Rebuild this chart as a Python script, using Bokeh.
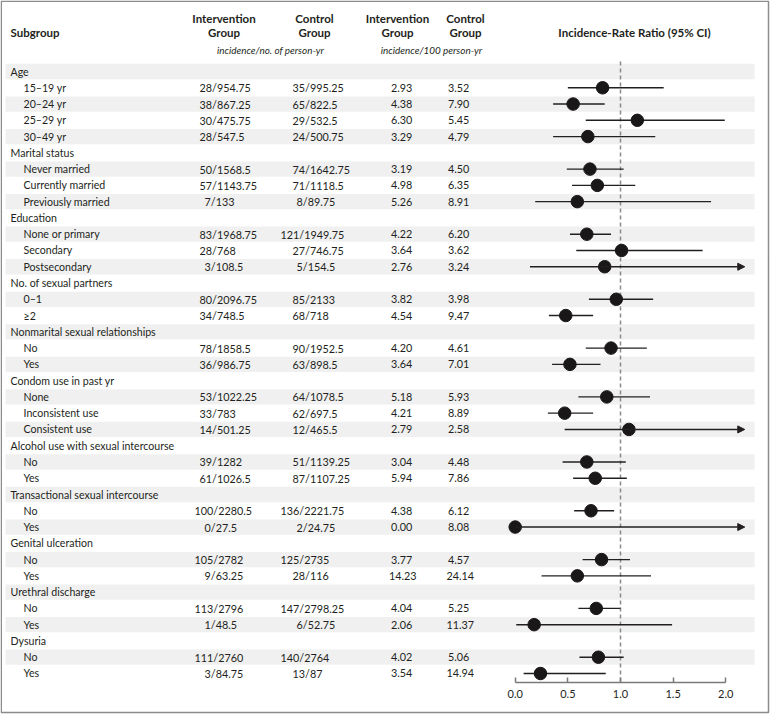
from bokeh.plotting import figure
from bokeh.models import (Range1d, LinearAxis, FixedTicker, PrintfTickFormatter,
                          ColumnDataSource, Arrow, NormalHead)
from bokeh.embed import file_html
from bokeh.resources import INLINE
from bokeh.core.properties import value

# ---------------- data ----------------
groups = ["Age", "Marital status", "Education", "No. of sexual partners",
          "Nonmarital sexual relationships", "Condom use in past yr",
          "Alcohol use with sexual intercourse", "Transactional sexual intercourse",
          "Genital ulceration", "Urethral discharge", "Dysuria"]
subgroups = [
    ["15\u201319 yr", "20\u201324 yr", "25\u201329 yr", "30\u201349 yr"],
    ["Never married", "Currently married", "Previously married"],
    ["None or primary", "Secondary", "Postsecondary"],
    ["0\u20131", "\u22652"],
    ["No", "Yes"],
    ["None", "Inconsistent use", "Consistent use"],
    ["No", "Yes"],
    ["No", "Yes"],
    ["No", "Yes"],
    ["No", "Yes"],
    ["No", "Yes"],
]
int_events = ["28", "38", "30", "28", "50", "57", "7", "83", "28", "3", "80", "34",
              "78", "36", "53", "33", "14", "39", "61", "100", "0", "105", "9",
              "113", "1", "111", "3"]
int_py = ["954.75", "867.25", "475.75", "547.5", "1568.5", "1143.75", "133",
          "1968.75", "768", "108.5", "2096.75", "748.5", "1858.5", "986.75",
          "1022.25", "783", "501.25", "1282", "1026.5", "2280.5", "27.5", "2782",
          "63.25", "2796", "48.5", "2760", "84.75"]
ctl_events = ["35", "65", "29", "24", "74", "71", "8", "121", "27", "5", "85", "68",
              "90", "63", "64", "62", "12", "51", "87", "136", "2", "125", "28",
              "147", "6", "140", "13"]
ctl_py = ["995.25", "822.5", "532.5", "500.75", "1642.75", "1118.5", "89.75",
          "1949.75", "746.75", "154.5", "2133", "718", "1952.5", "898.5", "1078.5",
          "697.5", "465.5", "1139.25", "1107.25", "2221.75", "24.75", "2735", "116",
          "2798.25", "52.75", "2764", "87"]
int_rate = ["2.93", "4.38", "6.30", "3.29", "3.19", "4.98", "5.26", "4.22", "3.64",
            "2.76", "3.82", "4.54", "4.20", "3.64", "5.18", "4.21", "2.79", "3.04",
            "5.94", "4.38", "0.00", "3.77", "14.23", "4.04", "2.06", "4.02", "3.54"]
ctl_rate = ["3.52", "7.90", "5.45", "4.79", "4.50", "6.35", "8.91", "6.20", "3.62",
            "3.24", "3.98", "9.47", "4.61", "7.01", "5.93", "8.89", "2.58", "4.48",
            "7.86", "6.12", "8.08", "4.57", "24.14", "5.25", "11.37", "5.06", "14.94"]
irr = [0.83, 0.55, 1.16, 0.69, 0.71, 0.78, 0.59, 0.68, 1.01, 0.85, 0.96, 0.48,
       0.91, 0.52, 0.87, 0.47, 1.08, 0.68, 0.76, 0.72, 0.00, 0.82, 0.59, 0.77,
       0.18, 0.79, 0.24]
ci_low = [0.50, 0.36, 0.67, 0.36, 0.49, 0.54, 0.19, 0.52, 0.58, 0.14, 0.70, 0.32,
          0.67, 0.35, 0.60, 0.31, 0.47, 0.45, 0.55, 0.56, 0.00, 0.64, 0.25, 0.60,
          0.01, 0.61, 0.08]
ci_high = [1.41, 0.85, 1.99, 1.33, 1.03, 1.14, 1.86, 0.91, 1.78, None, 1.31, 0.74,
           1.25, 0.81, 1.28, 0.74, None, 1.05, 1.06, 0.94, None, 1.09, 1.29, 1.00,
           1.49, 1.03, 0.86]
tick_values = [0.0, 0.5, 1.0, 1.5, 2.0]

# ---------------- layout (page pixels) ----------------
W, H = 770, 714
OX, OY = 8, 8
ROW0, PITCH = 79.0, 16.27          # page y of first row, row pitch
X0, XS = 522.7, 105.3              # page x of IRR 0, pixels per unit
ARROW_END = 2.18                   # where open-ended CIs are drawn to
FONT = value("Lato")
TXT = "#231f20"

def prow(py):
    return (py - ROW0) / PITCH

p = figure(width=W, height=H, output_backend="svg", toolbar_location=None,
           x_range=Range1d((OX - X0) / XS, (OX + W - X0) / XS),
           y_range=Range1d(prow(OY + H), prow(OY)),
           x_axis_type=None, y_axis_type=None, min_border=0)
p.extra_x_ranges = {"pg": Range1d(OX, OX + W)}
p.extra_y_ranges = {"pgy": Range1d(OY + H, OY)}
p.outline_line_color = None
p.background_fill_color = "white"

# build rows
head_y, head_t, sub_y, sub_t = [], [], [], []
r = 0
for g, subs in zip(groups, subgroups):
    head_y.append(r); head_t.append(g); r += 1
    for s in subs:
        sub_y.append(r); sub_t.append(s); r += 1
n_rows = r

# zebra shading
shade = [i for i in range(n_rows) if i % 2 == 0]
p.quad(left=13, right=762, top=[i - 0.47 for i in shade], bottom=[i + 0.47 for i in shade],
       x_range_name="pg", fill_color="#f0f0f0", line_color=None)

# outer frame
p.quad(left=OX + 0.75, right=776, top=OY + 0.75, bottom=720,
       x_range_name="pg", y_range_name="pgy", fill_color=None,
       line_color="#8c8c8c", line_width=1.5)

lab = dict(x_range_name="pg", text_font=FONT, text_font_size="10.6px",
           text_baseline="middle", text_color=TXT, text_align="left")
num = dict(lab, text_font_size="10.8px")
p.text(x=18, y=head_y, text=head_t, **lab)
p.text(x=31, y=sub_y, text=sub_t, **lab)

int_left = {1: 212, 2: 207, 3: 202}
ctl_left = {1: 304, 2: 300, 3: 288}
p.text(x=[int_left[len(e)] for e in int_events], y=sub_y,
       text=[e + "/" + d for e, d in zip(int_events, int_py)], **num)
p.text(x=[ctl_left[len(e)] for e in ctl_events], y=sub_y,
       text=[e + "/" + d for e, d in zip(ctl_events, ctl_py)], **num)
p.text(x=[398.5 - (2 if len(v) > 4 else 0) for v in int_rate], y=sub_y, text=int_rate, **num)
p.text(x=[455.5 - (1.5 if len(v) > 4 else 0) for v in ctl_rate], y=sub_y, text=ctl_rate, **num)

# column headers
hdr = dict(x_range_name="pg", y_range_name="pgy", text_font=FONT, text_font_size="11.5px",
           text_font_style="bold", text_baseline="middle", text_color=TXT, text_align="center")
p.text(x=[231.5, 322, 405, 473], y=[26] * 4,
       text=["Intervention", "Control", "Intervention", "Control"], **hdr)
p.text(x=[231.5, 322, 405, 473], y=[40] * 4, text=["Group"] * 4, **hdr)
p.text(x=[642], y=[40], text=["Incidence-Rate Ratio (95% CI)"], **hdr)
p.text(x=[18], y=[40], text=["Subgroup"], **{**hdr, "text_align": "left"})
p.text(x=[278, 439], y=[57, 57], text=["incidence/no. of person-yr", "incidence/100 person-yr"],
       x_range_name="pg", y_range_name="pgy", text_font=FONT, text_font_size="9.9px",
       text_font_style="italic", text_baseline="middle", text_color=TXT, text_align="center")

# reference line at 1
axis_row = prow(690)
p.segment(x0=1, x1=1, y0=prow(69), y1=axis_row, line_color="#8a8a8a",
          line_width=1.5, line_dash="4 3")

# CIs
closed = [i for i, h in enumerate(ci_high) if h is not None]
opened = [i for i, h in enumerate(ci_high) if h is None]
p.segment(x0=[ci_low[i] for i in closed], x1=[ci_high[i] for i in closed],
          y0=[sub_y[i] for i in closed], y1=[sub_y[i] for i in closed],
          line_color="#231f20", line_width=1.4)
arr_src = ColumnDataSource(dict(x0=[ci_low[i] for i in opened],
                                x1=[ARROW_END] * len(opened),
                                y=[sub_y[i] for i in opened]))
p.add_layout(Arrow(end=NormalHead(size=7, fill_color="#231f20", line_color="#231f20"),
                   x_start="x0", y_start="y", x_end="x1", y_end="y", source=arr_src,
                   line_color="#231f20", line_width=1.4))

# point estimates
p.scatter(x=irr, y=sub_y, marker="circle", size=12.5, fill_color="#1a1718",
          line_color="#1a1718")

# x axis
ax = LinearAxis(fixed_location=axis_row, bounds=(0, 2),
                ticker=FixedTicker(ticks=tick_values),
                formatter=PrintfTickFormatter(format="%.1f"))
ax.axis_line_color = "#7a7a7a"
ax.axis_line_width = 1.5
ax.major_tick_line_color = "#7a7a7a"
ax.major_tick_line_width = 1.5
ax.major_tick_in = 5
ax.major_tick_out = 0
ax.minor_tick_line_color = None
ax.major_label_text_font = "Lato"
ax.major_label_text_font_size = "11px"
ax.major_label_text_color = TXT
ax.major_label_standoff = 7
p.add_layout(ax, "below")

open("out.html", "w").write(file_html(p, INLINE))
